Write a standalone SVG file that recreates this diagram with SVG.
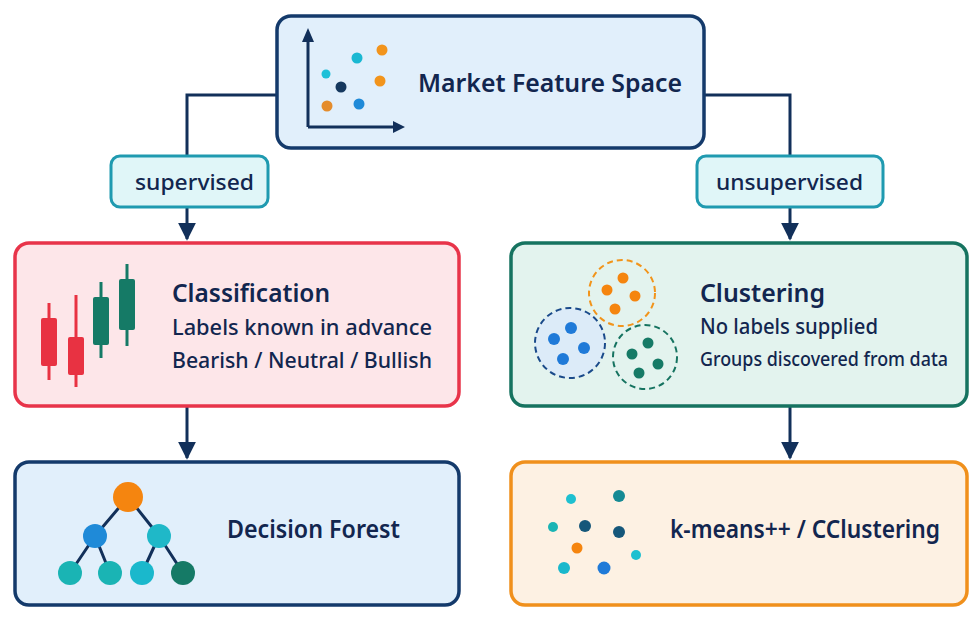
<svg xmlns="http://www.w3.org/2000/svg" width="978" height="617" viewBox="0 0 978 617">
<style>
text{font-family:"Noto Sans","Open Sans",sans-serif;fill:#12264f}
.t{font-size:26px;font-weight:600}
.s{font-size:22px;font-weight:500}
.box{stroke-width:3.5}
.con{fill:none;stroke:#12305a;stroke-width:3}
</style>
<defs>
<marker id="ar" viewBox="0 0 10 10" refX="9" refY="5" markerWidth="18" markerHeight="18" markerUnits="userSpaceOnUse" orient="auto"><path d="M0,0 L10,5 L0,10z" fill="#12305a"/></marker>
</defs>
<rect width="978" height="617" fill="#fff"/>
<g id="connectors">
<path class="con" d="M276,95 H187 V155"/>
<path class="con" d="M704,95 H790 V155"/>
<path class="con" d="M187,207 V239" marker-end="url(#ar)"/>
<path class="con" d="M790,207 V239" marker-end="url(#ar)"/>
<path class="con" d="M187,407 V458" marker-end="url(#ar)"/>
<path class="con" d="M790,407 V458" marker-end="url(#ar)"/>
</g>
<g id="top">
<rect class="box" x="277" y="16" width="427" height="132" rx="14" fill="#e1effb" stroke="#143a6b"/>
<path d="M308,127 V40 M308,127 H395" stroke="#12305a" stroke-width="3" fill="none"/>
<path d="M302,42 L308,28 L314,42z M393,121 L405,127 L393,133z" fill="#12305a"/>
<circle cx="326" cy="74" r="4.5" fill="#1ec0d8"/>
<circle cx="341" cy="87" r="5.5" fill="#15385e"/>
<circle cx="357" cy="58" r="5.5" fill="#1ab8d2"/>
<circle cx="382" cy="50" r="5.5" fill="#f2941b"/>
<circle cx="380" cy="81" r="5.5" fill="#f2941b"/>
<circle cx="327" cy="106" r="5.5" fill="#e48c2c"/>
<circle cx="359" cy="104" r="5.5" fill="#1f8ad8"/>
<text class="t" x="418" y="92" textLength="264" lengthAdjust="spacingAndGlyphs">Market Feature Space</text>
</g>
<g id="sup">
<rect x="111" y="156" width="157" height="51" rx="9" fill="#e0f6f8" stroke="#1f9ab0" stroke-width="3"/>
<text x="135" y="190" textLength="119" lengthAdjust="spacingAndGlyphs" style="font-size:22px;font-weight:500">supervised</text>
</g>
<g id="unsup">
<rect x="697" y="156" width="186" height="51" rx="9" fill="#e0f6f8" stroke="#1f9ab0" stroke-width="3"/>
<text x="716" y="190" textLength="147" lengthAdjust="spacingAndGlyphs" style="font-size:22px;font-weight:500">unsupervised</text>
</g>
<g id="classification">
<rect class="box" x="15" y="243" width="444" height="163" rx="14" fill="#fde6e9" stroke="#e8344a"/>
<g stroke-width="3">
<line x1="49" y1="303" x2="49" y2="380" stroke="#e83242"/><rect x="41" y="318" width="16" height="48" rx="2" fill="#e83242"/>
<line x1="76" y1="295" x2="76" y2="387" stroke="#e83242"/><rect x="68" y="337" width="16" height="38" rx="2" fill="#e83242"/>
<line x1="101" y1="282" x2="101" y2="358" stroke="#157a66"/><rect x="93" y="297" width="16" height="48" rx="2" fill="#157a66"/>
<line x1="127" y1="264" x2="127" y2="346" stroke="#157a66"/><rect x="119" y="279" width="16" height="51" rx="2" fill="#157a66"/>
</g>
<text class="t" x="172" y="302" textLength="158" lengthAdjust="spacingAndGlyphs">Classification</text>
<text class="s" x="172" y="335" textLength="260" lengthAdjust="spacingAndGlyphs">Labels known in advance</text>
<text class="s" x="172" y="368" textLength="260" lengthAdjust="spacingAndGlyphs">Bearish / Neutral / Bullish</text>
</g>
<g id="forest">
<rect class="box" x="15" y="462" width="444" height="143" rx="14" fill="#e1effb" stroke="#143a6b"/>
<path d="M128,497 L95,536 M128,497 L159,536 M95,536 L70,573 M95,536 L110,573 M159,536 L142,573 M159,536 L183,573" stroke="#12305a" stroke-width="3"/>
<circle cx="128" cy="497" r="15" fill="#f5850f"/>
<circle cx="95" cy="536" r="12" fill="#1f8ad8"/>
<circle cx="159" cy="536" r="12" fill="#1fb8c8"/>
<circle cx="70" cy="573" r="12" fill="#1ab4b4"/>
<circle cx="110" cy="573" r="12" fill="#1ab4b4"/>
<circle cx="142" cy="573" r="12" fill="#1ab8cc"/>
<circle cx="183" cy="573" r="12" fill="#157a66"/>
<text class="t" x="227" y="538" textLength="173" lengthAdjust="spacingAndGlyphs">Decision Forest</text>
</g>
<g id="clustering">
<rect class="box" x="511" y="243" width="456" height="163" rx="14" fill="#e3f3ee" stroke="#167360"/>
<g fill="none" stroke-width="2" stroke-dasharray="6 4">
<circle cx="622" cy="293" r="33" stroke="#f2941b"/>
<circle cx="570" cy="343" r="35" stroke="#1a4a8a" fill="#dcebf8"/>
<circle cx="645" cy="357" r="32" stroke="#167360"/>
</g>
<g fill="#f5850f"><circle cx="623" cy="278" r="5.5"/><circle cx="607" cy="290" r="5.5"/><circle cx="635" cy="296" r="5.5"/><circle cx="615" cy="309" r="5.5"/></g>
<g fill="#1f7ad8"><circle cx="571" cy="328" r="6"/><circle cx="554" cy="339" r="6"/><circle cx="584" cy="348" r="6"/><circle cx="563" cy="359" r="6"/></g>
<g fill="#167a66"><circle cx="648" cy="343" r="5.5"/><circle cx="632" cy="354" r="5.5"/><circle cx="658" cy="364" r="5.5"/><circle cx="639" cy="373" r="5.5"/></g>
<text class="t" x="700" y="302" textLength="125" lengthAdjust="spacingAndGlyphs">Clustering</text>
<text class="s" x="700" y="334" textLength="178" lengthAdjust="spacingAndGlyphs">No labels supplied</text>
<text x="700" y="366" textLength="248" lengthAdjust="spacingAndGlyphs" style="font-size:20px;font-weight:500">Groups discovered from data</text>
</g>
<g id="kmeans">
<rect class="box" x="511" y="462" width="456" height="143" rx="14" fill="#fdf1e3" stroke="#f0901c"/>
<circle cx="571" cy="499" r="5" fill="#1ec0d0"/>
<circle cx="619" cy="496" r="6" fill="#158a94"/>
<circle cx="553" cy="527" r="5" fill="#1ab4b4"/>
<circle cx="585" cy="526" r="6" fill="#15577a"/>
<circle cx="619" cy="532" r="6" fill="#15577a"/>
<circle cx="577" cy="548" r="5.5" fill="#f5850f"/>
<circle cx="636" cy="555" r="5" fill="#1ec0d0"/>
<circle cx="564" cy="568" r="6" fill="#1ab8cc"/>
<circle cx="604" cy="568" r="6.5" fill="#1f7ad8"/>
<text class="t" x="670" y="538" textLength="270" lengthAdjust="spacingAndGlyphs">k-means++ / CClustering</text>
</g>
</svg>
